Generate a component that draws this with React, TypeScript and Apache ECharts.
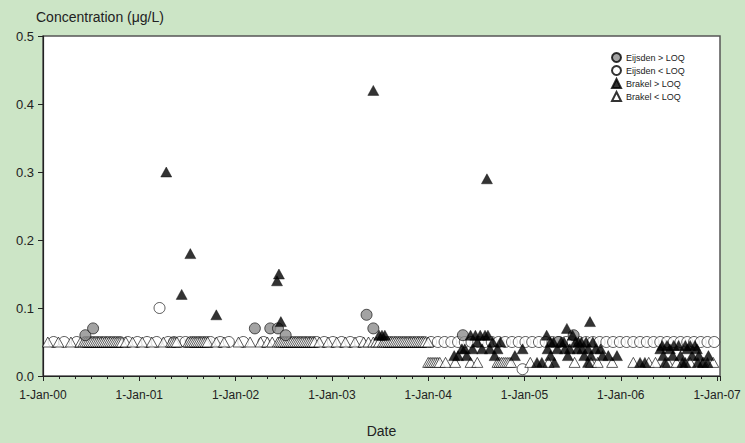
import React, { useEffect, useRef } from 'react';
import * as echarts from 'echarts';

// ---- tick labels ----
const xTickLabels = ['1-Jan-00', '1-Jan-01', '1-Jan-02', '1-Jan-03', '1-Jan-04', '1-Jan-05', '1-Jan-06', '1-Jan-07'];
const yTickLabels = ['0.0', '0.1', '0.2', '0.3', '0.4', '0.5'];

// ---- series names ----
const seriesNames = ['Eijsden > LOQ', 'Eijsden < LOQ', 'Brakel > LOQ', 'Brakel < LOQ'];

// ---- data (x in decimal years, y in µg/L) ----
const eijsdenAbove: [number, number][] = [
  [2000.44, 0.06], [2000.52, 0.07], [2002.20, 0.07], [2002.36, 0.07], [2002.44, 0.07],
  [2002.52, 0.06], [2003.36, 0.09], [2003.43, 0.07], [2004.36, 0.06], [2005.35, 0.05], [2005.51, 0.06],
];

const eijsdenBelowOutliers: [number, number][] = [[2001.21, 0.10], [2004.98, 0.01]];
const eijsdenLoq = 0.05;
const eijsdenLoqDates = [
  2000.11, 2000.22, 2000.35,
  2000.44, 2000.48, 2000.52, 2000.56, 2000.60, 2000.64, 2000.68, 2000.72, 2000.76, 2000.80,
  2000.88, 2000.98, 2001.08, 2001.18, 2001.30,
  2001.36, 2001.42, 2001.48,
  2001.54, 2001.58, 2001.62, 2001.66, 2001.70, 2001.74,
  2001.84, 2001.93, 2002.08, 2002.29,
  2002.48, 2002.52, 2002.56, 2002.60, 2002.64, 2002.68, 2002.72, 2002.76, 2002.80, 2002.84,
  2002.92, 2003.01, 2003.10, 2003.19, 2003.29,
  2003.56, 2003.60, 2003.64, 2003.68, 2003.72, 2003.76, 2003.80, 2003.84, 2003.88, 2003.92, 2003.96,
  2004.03, 2004.10, 2004.17, 2004.24, 2004.31, 2004.38, 2004.45, 2004.52, 2004.59, 2004.66,
  2004.73, 2004.80, 2004.87, 2004.94, 2005.01, 2005.08, 2005.15, 2005.22, 2005.29, 2005.36,
  2005.43, 2005.50, 2005.57, 2005.64, 2005.71, 2005.78, 2005.85, 2005.92, 2005.99, 2006.06,
  2006.13, 2006.20, 2006.27, 2006.34, 2006.41, 2006.48, 2006.55, 2006.62, 2006.69, 2006.76,
  2006.83, 2006.90, 2006.97,
];

const brakelAbove: [number, number][] = [
  [2001.28, 0.30], [2001.44, 0.12], [2001.53, 0.18], [2001.80, 0.09],
  [2002.43, 0.14], [2002.45, 0.15], [2002.47, 0.08],
  [2003.43, 0.42], [2003.49, 0.06], [2003.52, 0.06], [2003.55, 0.06],
  [2004.27, 0.03], [2004.31, 0.03], [2004.35, 0.04], [2004.38, 0.04], [2004.40, 0.03], [2004.44, 0.06],
  [2004.46, 0.04], [2004.49, 0.06], [2004.51, 0.05], [2004.54, 0.06], [2004.56, 0.04], [2004.59, 0.06],
  [2004.61, 0.29], [2004.62, 0.06], [2004.64, 0.04], [2004.67, 0.05], [2004.69, 0.03], [2004.72, 0.04],
  [2004.75, 0.05], [2004.90, 0.03], [2004.98, 0.04],
  [2005.13, 0.02], [2005.18, 0.02], [2005.31, 0.02], [2005.66, 0.02],
  [2005.23, 0.06], [2005.44, 0.07], [2005.50, 0.06], [2005.68, 0.08],
  [2005.27, 0.05], [2005.30, 0.05], [2005.38, 0.05], [2005.41, 0.05], [2005.53, 0.05], [2005.56, 0.05],
  [2005.59, 0.05], [2005.64, 0.05], [2005.71, 0.05],
  [2005.24, 0.04], [2005.34, 0.04], [2005.42, 0.04], [2005.47, 0.04], [2005.55, 0.04], [2005.60, 0.04],
  [2005.66, 0.04], [2005.74, 0.04], [2005.79, 0.04],
  [2005.27, 0.03], [2005.45, 0.03], [2005.62, 0.03], [2005.69, 0.03], [2005.81, 0.03], [2005.87, 0.03], [2005.96, 0.03],
  [2006.20, 0.02], [2006.25, 0.02], [2006.46, 0.02], [2006.64, 0.02], [2006.67, 0.02], [2006.80, 0.02],
  [2006.85, 0.02], [2006.90, 0.02],
  [2006.43, 0.045], [2006.48, 0.045], [2006.55, 0.045], [2006.60, 0.045], [2006.67, 0.045], [2006.72, 0.045], [2006.77, 0.045],
  [2006.41, 0.04], [2006.51, 0.04], [2006.69, 0.04], [2006.79, 0.04],
  [2006.44, 0.03], [2006.54, 0.03], [2006.62, 0.03], [2006.74, 0.03], [2006.81, 0.03], [2006.91, 0.03],
];

const brakelLoqEarly = 0.05;
const brakelLoqEarlyDates = [
  2000.05, 2000.16, 2000.29, 2000.39,
  2000.42, 2000.44, 2000.46, 2000.48, 2000.50, 2000.52, 2000.54, 2000.56, 2000.58, 2000.60, 2000.62,
  2000.64, 2000.66, 2000.68, 2000.70, 2000.72, 2000.74, 2000.76, 2000.78, 2000.80, 2000.82,
  2000.86, 2000.93, 2001.03, 2001.13, 2001.25,
  2001.33, 2001.35, 2001.37, 2001.39,
  2001.51, 2001.53, 2001.55, 2001.57, 2001.59, 2001.61, 2001.63, 2001.65, 2001.67, 2001.69, 2001.71,
  2001.80, 2001.88, 2002.03, 2002.15,
  2002.26, 2002.33, 2002.38,
  2002.44, 2002.46, 2002.48, 2002.50, 2002.52, 2002.54, 2002.56, 2002.58, 2002.60, 2002.62,
  2002.64, 2002.66, 2002.68, 2002.70, 2002.72, 2002.74, 2002.76, 2002.78, 2002.80, 2002.82,
  2002.87, 2002.96, 2003.05, 2003.14, 2003.24, 2003.33, 2003.38,
  2003.43, 2003.46, 2003.49,
  2003.53, 2003.55, 2003.57, 2003.59, 2003.61, 2003.63, 2003.65, 2003.67, 2003.69, 2003.71, 2003.73,
  2003.75, 2003.77, 2003.79, 2003.81, 2003.83, 2003.85, 2003.87, 2003.89, 2003.91, 2003.93, 2003.95, 2003.97,
  2004.00,
];

const brakelLoqLate = 0.02;
const brakelLoqLateDates = [
  2004.00, 2004.02, 2004.04, 2004.06, 2004.08, 2004.10, 2004.12,
  2004.18, 2004.28, 2004.44, 2004.51,
  2004.72, 2004.74, 2004.76, 2004.78, 2004.80, 2004.82, 2004.84, 2004.86,
  2005.06, 2005.25, 2005.52, 2005.69, 2005.76, 2005.91,
  2006.13, 2006.29, 2006.36, 2006.49, 2006.58, 2006.72, 2006.86, 2006.96,
];

const FONT = "'Liberation Sans', Arial, sans-serif";
const TEXT = '#222';
const BG = '#cce5c6';

export default function App() {
  const ref = useRef<HTMLDivElement>(null);

  useEffect(() => {
    const chart = echarts.init(ref.current!, null, { renderer: 'svg' });

    const eijsdenBelow = [
      ...eijsdenLoqDates.map((d) => [d, eijsdenLoq]),
      ...eijsdenBelowOutliers,
    ];
    const brakelBelow = [
      ...brakelLoqEarlyDates.map((d) => [d, brakelLoqEarly]),
      ...brakelLoqLateDates.map((d) => [d, brakelLoqLate]),
    ];

    const border = { borderColor: '#000', borderWidth: 0.8 };

    chart.setOption({
      animation: false,
      backgroundColor: BG,
      textStyle: { fontFamily: FONT },
      grid: {
        left: 43, right: 25, top: 36, bottom: 60,
        show: true, backgroundColor: '#fff', borderColor: '#555', borderWidth: 1.5,
      },
      graphic: [
        {
          type: 'text', left: 36, top: 10,
          style: { text: 'Concentration (μg/L)', fill: TEXT, fontSize: 14, fontFamily: FONT },
        },
      ],
      legend: {
        orient: 'vertical', left: 611, top: 52, itemGap: 2, itemWidth: 9, itemHeight: 9, padding: 0,
        data: seriesNames,
        textStyle: { fontSize: 9, color: TEXT, fontFamily: FONT, lineHeight: 9 },
      },
      xAxis: {
        type: 'value', min: 2000, max: 2007.03, interval: 1,
        name: 'Date', nameLocation: 'middle', nameGap: 48,
        nameTextStyle: { fontSize: 14, color: TEXT, fontFamily: FONT },
        axisLine: { show: true, onZero: false, lineStyle: { color: '#222', width: 1.2 } },
        axisTick: { show: true, length: 5, lineStyle: { color: '#222' } },
        minorTick: { show: true, splitNumber: 6, length: 3, lineStyle: { color: '#222' } },
        splitLine: { show: false },
        axisLabel: {
          fontSize: 12, color: TEXT, margin: 13, fontFamily: FONT,
          formatter: (v: number) => {
            const r = Math.round(v);
            if (Math.abs(v - r) > 1e-6) return '';
            return xTickLabels[r - 2000] ?? '';
          },
        },
      },
      yAxis: {
        type: 'value', min: 0, max: 0.5, interval: 0.1,
        axisLine: { show: true, lineStyle: { color: '#222', width: 1.2 } },
        axisTick: { show: true, length: 5, lineStyle: { color: '#222' } },
        splitLine: { show: false },
        axisLabel: {
          fontSize: 13, color: TEXT, margin: 9, fontFamily: FONT,
          formatter: (v: number) => yTickLabels[Math.round(v * 10)] ?? '',
        },
      },
      series: [
        {
          name: seriesNames[0], type: 'scatter', z: 4, data: eijsdenAbove,
          symbol: 'circle', symbolSize: 11,
          itemStyle: { color: '#8c8c8c', ...border },
        },
        {
          name: seriesNames[1], type: 'scatter', z: 2, data: eijsdenBelow,
          symbol: 'circle', symbolSize: 11,
          itemStyle: { color: '#fff', ...border },
        },
        {
          name: seriesNames[2], type: 'scatter', z: 5, data: brakelAbove,
          symbol: 'triangle', symbolSize: [11, 10],
          itemStyle: { color: '#000', borderColor: '#000', borderWidth: 0.5 },
        },
        {
          name: seriesNames[3], type: 'scatter', z: 3, data: brakelBelow,
          symbol: 'triangle', symbolSize: [11, 10],
          itemStyle: { color: '#fff', ...border },
        },
      ],
    });

    return () => chart.dispose();
  }, []);

  return (
    <div
      ref={ref}
      style={{ position: 'fixed', left: 0, top: 0, width: 745, height: 443, background: BG }}
    />
  );
}
